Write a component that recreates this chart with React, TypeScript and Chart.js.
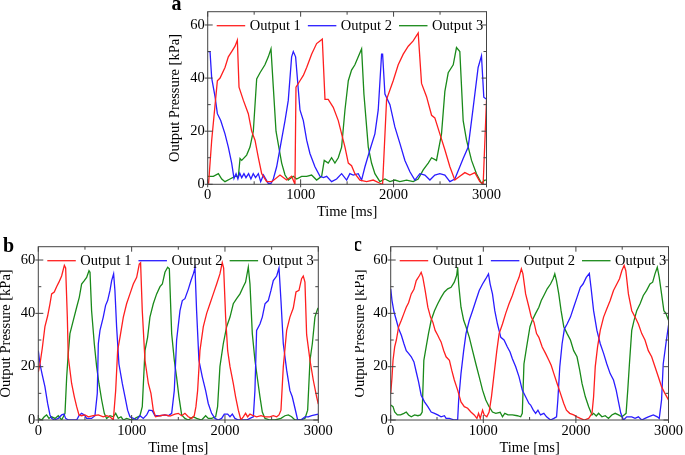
import { useEffect, useRef } from "react";
import { Chart, registerables } from "chart.js";

Chart.register(...registerables);

const FONT = '"Liberation Serif", "Times New Roman", serif';
Chart.defaults.font.family = FONT;

// Panel a (time in ms, pressure in kPa)
const aTime1 = [0,10,43,104,133,186,222,258,294,319,337,384,437,473,509,545,581,634,690,778,849,903,939,950,993,1029,1065,1118,1172,1208,1233,1262,1297,1351,1405,1441,1477,1513,1548,1584,1638,1710,1781,1853,1882,1925,1996,2050,2104,2158,2211,2265,2301,2355,2409,2444,2498,2552,2606,2659,2713,2767,2821,2875,2928,2964,3000];
const aOut1 = [1,0.5,16.6,39,40,44,48,50,52,54.3,36.6,31.6,26.6,20,16.6,10,4,1,1,3.5,1.6,3,0,36.6,39,41,44,49,53,54,54.7,32,32,29,24,19,14,8,7,4,1.6,1,1.6,0.4,0,32,39,45,49,52,54,57,38,33,26,25,19,13,6.6,1.6,3,4.4,3.5,4.4,1,0,31.6];
const aTime2 = [0,25,43,79,104,140,186,222,258,283,305,325,345,366,390,412,440,465,490,515,545,570,600,625,652,680,706,742,778,832,867,903,921,946,993,1029,1065,1100,1154,1208,1245,1280,1333,1387,1441,1495,1530,1566,1620,1656,1692,1746,1799,1835,1871,1882,1907,1961,2014,2068,2122,2176,2229,2283,2337,2391,2444,2498,2552,2606,2659,2713,2749,2803,2857,2910,2946,2971,3000];
const aOut2 = [50,50,40,33,26.6,24,19,14,8,2.2,4,2,4.2,2.5,4,2.5,4,2,4,2.5,4,1,3.5,2,0.3,0.3,2,6.6,13.5,24,31.6,48,50,48,28,24,16.6,11.6,6.6,3,2.5,3,1,2,4,1.6,4,3.5,4,1.6,6.6,13,19,28,49,49,34,30,21.6,15.4,9,4.7,1.6,4,3.5,1.6,3.5,4,3.5,1,2,6.6,9.7,14,29,44,48.4,32.8,32];
const aTime3 = [0,61,115,151,186,240,294,330,348,366,419,455,491,527,563,616,652,681,706,735,760,796,832,867,921,957,1011,1065,1118,1172,1226,1254,1297,1333,1369,1405,1441,1477,1513,1548,1584,1620,1656,1681,1728,1763,1799,1853,1907,1961,2014,2068,2140,2211,2265,2319,2373,2409,2462,2516,2552,2588,2642,2677,2713,2749,2785,2839,2892,2946,2982,3000];
const aOut3 = [3,3,4,2,1,2,3,3,9.7,9,11,14,20,39.7,42,45,48,51,36.6,20,15,8,3.5,1.6,3,2,3,3,3.5,1.6,3,9,8,10,8,10,14,28,39,43,45,48,51,34,14,8,4,1,2,1,1.6,1,1.6,1,2,5.4,8,10,9,19,35,42,45,51.5,50,24,16.6,9,4,0.4,1.6,1.6];

// Panel b
const bTime1 = [0,18,43,71,100,125,143,171,196,221,250,279,293,311,321,357,386,411,436,464,500,536,589,643,696,732,768,804,829,850,875,911,946,982,1018,1054,1082,1096,1114,1143,1179,1207,1232,1257,1304,1357,1411,1464,1500,1536,1571,1607,1643,1671,1689,1707,1732,1768,1804,1839,1875,1911,1946,1971,1986,2007,2029,2054,2089,2114,2143,2171,2196,2221,2243,2268,2304,2339,2386,2429,2482,2518,2554,2579,2600,2625,2661,2696,2732,2761,2793,2821,2839,2857,2875,2911,2946,2982,3000];
const bOut1 = [18,21,27,35,39,43.6,47.3,48,50,51.7,54,58,57,38.6,23.7,13.7,8.7,5,1.9,1.6,1.9,1.2,1.6,1.9,1.2,1.6,1.2,0,11,26,31,38.6,43.6,47.3,51,53.5,58.5,59,41,22.4,13.7,10,3.7,1.2,1.6,1.9,1.5,2.2,2.5,1.6,2.5,1.2,0.6,1.6,5,11,26,35,40,43.6,47.3,51,54.8,59,57,38.6,26,20,13.7,8.7,3.7,0,1.2,2.5,1.2,2.2,1.6,1.2,1.6,1.2,1.2,1.6,1.2,1.9,3.7,20,33.6,38.6,42,48,48.6,53,54,51.7,32,22.4,15,8.7,6];
const bTime2 = [0,18,43,71,100,125,143,171,214,250,275,293,321,411,436,464,493,518,571,607,632,643,661,696,721,743,768,786,807,821,839,864,900,929,957,982,1018,1054,1089,1125,1161,1186,1221,1250,1304,1357,1393,1429,1457,1482,1518,1543,1571,1607,1636,1661,1679,1696,1721,1757,1793,1821,1857,1893,1929,1964,1993,2029,2054,2079,2107,2143,2232,2268,2304,2321,2339,2375,2400,2429,2464,2493,2518,2554,2579,2600,2625,2661,2696,2721,2750,2779,2814,2857,2893,2929,2964,3000];
const bOut2 = [26,21,16.8,12.5,6.2,1.9,0.6,0,0.6,1.9,2.2,0.6,0,0,1.6,2.5,1.9,0.6,0.6,1.6,10,28.6,33.6,38.6,43,44.8,48.6,52.3,54.8,48.6,35,21,13.7,8.7,3.7,1.2,0.6,0,1.6,0.6,1.9,3.7,3.5,1.6,1.6,1.9,1.6,2.5,11,30,41,44.8,45.5,49,52.3,54.8,57,41,22.4,16.2,11,6.2,2.5,0.6,0,0.6,2.2,2.2,1.2,2.2,0.6,0,0,0.6,1.2,11,33.6,36,38.6,43.6,44.8,48.6,52.3,54,57,44.8,28.6,18.7,11,8.7,4.4,0,0,1.2,1.2,1.6,1.9,2.2];
const bTime3 = [0,36,64,89,114,143,179,214,250,268,286,304,321,339,375,411,439,464,493,518,543,554,571,600,625,650,679,707,732,768,804,829,857,886,911,946,1000,1036,1089,1114,1143,1171,1196,1232,1268,1304,1329,1357,1386,1404,1429,1457,1482,1507,1536,1571,1607,1661,1696,1750,1793,1821,1857,1900,1921,1946,1982,2018,2054,2089,2125,2161,2196,2221,2250,2268,2293,2321,2350,2375,2400,2429,2482,2536,2600,2643,2679,2714,2750,2804,2857,2886,2911,2936,2964,2993,3000];
const bOut3 = [0.6,0,1.2,1.9,0.6,1.2,0.6,1.6,0,1.2,2.5,16,25,32.4,37.4,42.3,46,51,52.3,53.5,56,55.4,41,28.6,20,13.7,7.5,2.5,0.6,1.6,1.2,2.5,0.6,1.2,0,0.6,0,0.6,1.6,5,26,31,38.6,43.6,47.3,50,51,55.4,57.3,56.7,32.4,22.4,16,8.7,1.9,0.6,0,1.2,0.6,0,1.6,0.6,0.6,1.2,5,20,28.6,35,38.6,43.6,45.5,47.3,50,51.7,57.3,51,32.4,22.4,15,8.7,3,0.6,0,0,0.6,1.6,1.9,1.2,0,0,0.6,3.7,22.4,28.6,38.6,41.7,42];

// Panel c
const cTime1 = [0,14,25,43,61,86,115,143,168,193,222,251,276,311,329,347,372,401,430,455,480,508,526,544,573,598,634,659,687,723,759,795,831,866,902,931,949,967,992,1010,1038,1063,1088,1117,1146,1171,1207,1242,1278,1314,1350,1386,1411,1428,1457,1493,1518,1547,1575,1600,1636,1672,1708,1733,1762,1797,1833,1869,1898,1933,1976,2012,2048,2091,2138,2174,2191,2209,2234,2263,2299,2334,2370,2406,2442,2471,2496,2521,2539,2567,2603,2639,2675,2711,2746,2782,2818,2854,2890,2925,2961,3000];
const cOut1 = [10,16,22.4,27.4,30,35,37.4,40,42.3,44,47.3,49,52.3,54.2,55.4,53.5,48.6,42.3,38.6,36.7,33.6,31.8,30.5,29.3,26,23.7,22.4,18.7,15,11.2,6.8,5,4.4,3,1.9,0.6,2.5,0.6,3.7,1.9,1.2,3,8.7,17.4,26,32.4,36,40,43.6,46.7,50.4,53.5,56.7,54.8,47.3,42.3,38.6,36.7,32.4,31,27.4,25,22.4,20.5,17.4,13.7,10,6.2,3.7,2.5,1.9,1.2,0.6,0,0.6,2.5,8.7,20,27.4,33.6,38.6,41.7,44.8,48.6,51,53,56,58,56,47.3,41,38.6,36,32.4,30,26,23.7,20,16.2,12.5,10,7.5];
const cTime2 = [0,14,36,61,86,115,143,168,193,222,251,276,301,329,365,401,437,473,508,544,580,598,634,687,723,734,759,788,813,849,884,920,956,992,1027,1056,1074,1099,1124,1153,1189,1224,1260,1289,1314,1350,1386,1421,1457,1493,1511,1540,1565,1590,1618,1654,1683,1726,1762,1791,1805,1826,1851,1876,1905,1941,1976,2012,2048,2077,2112,2145,2163,2191,2227,2263,2299,2334,2370,2406,2435,2460,2485,2514,2549,2603,2639,2675,2711,2746,2782,2836,2879,2900,2925,2943,2972,3000];
const cOut2 = [49.2,44.8,40.5,37.4,34.2,31.8,28.6,26,25,23.7,21.8,18,14.3,9.3,6.8,5,3,2.5,1.9,1.2,1.6,0.6,0.6,0,0,7.5,17.4,26,32.4,37.4,41,44.8,48.6,51,53,54.8,51,47.3,41,36,31,30,27.4,25.5,23,20,16.2,11.2,8.7,6.2,5.6,3.7,2.5,3.7,1.9,2.5,1.2,0,0.6,1.2,7.5,20,28.6,34.2,36,38.6,42.3,46,49.8,51,53.5,55,49.8,41,33.6,28.6,25,21,17.4,15,11.2,6.8,2.5,0,1.2,1.2,0.6,1.2,0,0.6,1.2,1.9,1.2,0.6,7.5,21,28.6,35.5];
const cTime3 = [0,25,43,72,107,143,168,193,222,258,294,322,340,358,383,408,437,473,508,544,580,616,652,687,712,723,734,759,788,813,849,884,920,956,992,1027,1063,1099,1135,1182,1207,1232,1267,1314,1368,1404,1421,1439,1468,1504,1529,1565,1600,1626,1654,1690,1726,1754,1772,1790,1815,1840,1869,1905,1941,1976,2012,2041,2066,2102,2138,2174,2191,2220,2245,2281,2317,2352,2388,2424,2460,2496,2521,2542,2560,2578,2603,2628,2657,2693,2728,2764,2800,2829,2854,2879,2900,2925,2950,2972,3000];
const cOut3 = [5.6,5,3,1.9,1.9,2.5,3,1.9,1.2,1.9,1.6,1.9,3,22.4,27.4,32.4,37.4,41,43.6,46,48,49.2,49.8,51.7,54.2,57.3,51,42.3,37.4,35,31,26,21,16.2,11.2,7.5,5,3,2.5,2.9,1.2,2.5,1.9,1.9,1.6,1.2,2.5,21,27.4,35,37.4,40,42.3,44.8,46.7,49.2,51,53,54.8,52.3,47.3,41,35,32.4,30,26,23.7,18.7,13.7,8.7,5,1.9,2.5,1.5,2.5,1.2,1.6,0.6,1.9,2.5,1.9,1.2,1.9,2.5,11.2,21,33.6,37.4,41,43.6,46.7,48.6,51,51.7,54.8,57.3,53.5,47.3,41,40,37.4];

const seriesLabels = ["Output 1", "Output 2", "Output 3"];
const seriesColors = ["#ff1f1f", "#2a1cff", "#1a8a1a"];
const xTicks = [0, 1000, 2000, 3000];
const yTicks = [0, 20, 40, 60];
const xMax = 3000;
const yMax = 65;
const xMinorStep = 500;
const yMinorStep = 10;

// frame with inward ticks + legend inside the plot area
const framePlugin = {
  id: "frameLegend",
  afterDatasetsDraw(chart: any) {
    const { ctx, chartArea } = chart;
    const { left, right, top, bottom } = chartArea;
    const xs = chart.scales.x;
    const ys = chart.scales.y;
    ctx.save();
    ctx.strokeStyle = "#444";
    ctx.lineWidth = 1;
    ctx.beginPath();
    for (let v = 0; v <= xMax; v += xMinorStep) {
      const px = xs.getPixelForValue(v);
      const major = v % 1000 === 0;
      const len = major ? 5 : 3;
      ctx.moveTo(px, bottom + (major ? 3 : 0));
      ctx.lineTo(px, bottom - len);
      ctx.moveTo(px, top);
      ctx.lineTo(px, top + len);
    }
    for (let v = 0; v <= yMax; v += yMinorStep) {
      const py = ys.getPixelForValue(v);
      const major = v % 20 === 0;
      const len = major ? 5 : 3;
      ctx.moveTo(left - (major ? 3 : 0), py);
      ctx.lineTo(left + len, py);
      ctx.moveTo(right, py);
      ctx.lineTo(right - len, py);
    }
    ctx.stroke();
    ctx.strokeRect(left, top, right - left, bottom - top);

    ctx.font = `14.5px ${FONT}`;
    ctx.textBaseline = "middle";
    ctx.textAlign = "left";
    ctx.fillStyle = "#000";
    let lx = left + 9;
    const ly = top + 14;
    chart.data.datasets.forEach((ds: any) => {
      ctx.strokeStyle = ds.borderColor;
      ctx.lineWidth = 1.3;
      ctx.beginPath();
      ctx.moveTo(lx, ly);
      ctx.lineTo(lx + 28.5, ly);
      ctx.stroke();
      ctx.fillText(ds.label, lx + 33, ly);
      lx += 33 + ctx.measureText(ds.label).width + 7;
    });
    ctx.restore();
  },
};

interface PanelProps {
  times: number[][];
  values: number[][];
  width: number;
  height: number;
  yAxisWidth: number;
  xAxisHeight: number;
  padTop: number;
  padRight: number;
}

function Panel({ times, values, width, height, yAxisWidth, xAxisHeight, padTop, padRight }: PanelProps) {
  const canvasRef = useRef<HTMLCanvasElement>(null);

  useEffect(() => {
    if (!canvasRef.current) return;
    const ctx = canvasRef.current.getContext("2d");
    if (!ctx) return;

    const chart = new Chart(ctx, {
      type: "line",
      data: {
        datasets: times.map((t, i) => ({
          label: seriesLabels[i],
          data: t.map((x, j) => ({ x, y: values[i][j] })),
          borderColor: seriesColors[i],
          backgroundColor: seriesColors[i],
          borderWidth: 1.3,
          pointRadius: 0,
          tension: 0,
          fill: false,
        })),
      },
      options: {
        animation: false,
        responsive: true,
        maintainAspectRatio: false,
        layout: { padding: { top: padTop, right: padRight, bottom: 0, left: 0 } },
        plugins: { legend: { display: false }, tooltip: { enabled: false } },
        scales: {
          x: {
            type: "linear",
            min: 0,
            max: xMax,
            afterBuildTicks: (s: any) => { s.ticks = xTicks.map(v => ({ value: v })); },
            afterFit: (s: any) => { s.height = xAxisHeight; },
            grid: { display: false, drawTicks: false },
            border: { display: false },
            ticks: { color: "#000", font: { size: 14.5 }, padding: 2, maxRotation: 0, autoSkip: false, callback: (v: any) => String(v) },
            title: { display: true, text: "Time [ms]", color: "#000", font: { size: 14.5 }, padding: 0 },
          },
          y: {
            min: 0,
            max: yMax,
            afterBuildTicks: (s: any) => { s.ticks = yTicks.map(v => ({ value: v })); },
            afterFit: (s: any) => { s.width = yAxisWidth; },
            grid: { display: false, drawTicks: false },
            border: { display: false },
            ticks: { color: "#000", font: { size: 14.5 }, padding: 3, callback: (v: any) => String(v) },
            title: { display: true, text: "Output Pressure [kPa]", color: "#000", font: { size: 14.5 }, padding: 0 },
          },
        },
      },
      plugins: [framePlugin],
    } as any);

    return () => {
      chart.destroy();
    };
  }, [times, values, yAxisWidth, xAxisHeight, padTop, padRight]);

  return (
    <div style={{ position: "relative", width, height }}>
      <canvas ref={canvasRef} />
    </div>
  );
}

const labelStyle = {
  position: "absolute" as const,
  fontFamily: FONT,
  fontWeight: "bold" as const,
  fontSize: 20,
  lineHeight: "20px",
  color: "#000",
};

const aTimes = [aTime1, aTime2, aTime3];
const aValues = [aOut1, aOut2, aOut3];
const bTimes = [bTime1, bTime2, bTime3];
const bValues = [bOut1, bOut2, bOut3];
const cTimes = [cTime1, cTime2, cTime3];
const cValues = [cOut1, cOut2, cOut3];

export default function App() {
  return (
    <div style={{ position: "absolute", left: 0, top: 0, width: 685, height: 455, background: "#fff" }}>
      <div style={{ position: "absolute", left: 166, top: 0 }}>
        <Panel times={aTimes} values={aValues} width={337} height={221}
          yAxisWidth={41.7} xAxisHeight={36.7} padTop={10} padRight={16.3} />
      </div>
      <div style={{ position: "absolute", left: -3, top: 235 }}>
        <Panel times={bTimes} values={bValues} width={338} height={222}
          yAxisWidth={41.3} xAxisHeight={37} padTop={10.7} padRight={16.7} />
      </div>
      <div style={{ position: "absolute", left: 355, top: 235, width: 330, height: 222, overflow: "hidden" }}>
        <div style={{ position: "absolute", left: -4, top: 0 }}>
          <Panel times={cTimes} values={cValues} width={334} height={222}
            yAxisWidth={39.7} xAxisHeight={37} padTop={10.7} padRight={15} />
        </div>
        <div style={{ ...labelStyle, left: -2, top: -1 }}>c</div>
      </div>
      <div style={{ ...labelStyle, left: 171.5, top: -6.7 }}>a</div>
      <div style={{ ...labelStyle, left: 3, top: 235 }}>b</div>
    </div>
  );
}
